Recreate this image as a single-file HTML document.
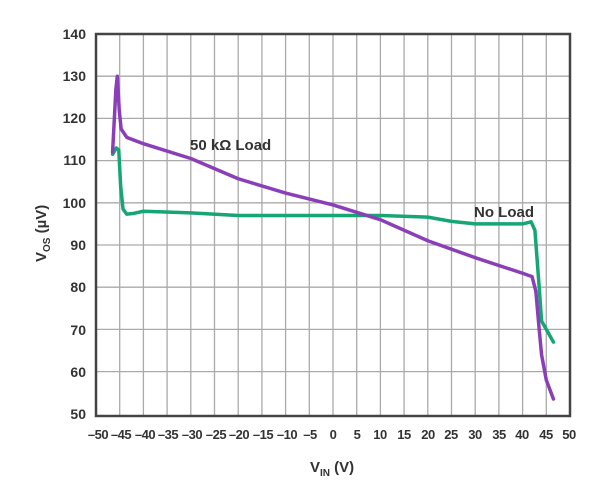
<!DOCTYPE html>
<html><head><style>
body{margin:0;background:#fff;}
text{font-family:"Liberation Sans",Arial,sans-serif;font-weight:bold;fill:#333;}
</style></head><body>
<svg width="615" height="493" xmlns="http://www.w3.org/2000/svg">
<rect width="615" height="493" fill="#fff"/>
<g stroke="#aaa" stroke-width="1.3">
<line x1="119.7" y1="34" x2="119.7" y2="416"/><line x1="143.4" y1="34" x2="143.4" y2="416"/><line x1="167.1" y1="34" x2="167.1" y2="416"/><line x1="190.8" y1="34" x2="190.8" y2="416"/><line x1="214.5" y1="34" x2="214.5" y2="416"/><line x1="238.2" y1="34" x2="238.2" y2="416"/><line x1="261.9" y1="34" x2="261.9" y2="416"/><line x1="285.6" y1="34" x2="285.6" y2="416"/><line x1="309.3" y1="34" x2="309.3" y2="416"/><line x1="333" y1="34" x2="333" y2="416"/><line x1="356.7" y1="34" x2="356.7" y2="416"/><line x1="380.4" y1="34" x2="380.4" y2="416"/><line x1="404.1" y1="34" x2="404.1" y2="416"/><line x1="427.8" y1="34" x2="427.8" y2="416"/><line x1="451.5" y1="34" x2="451.5" y2="416"/><line x1="475.2" y1="34" x2="475.2" y2="416"/><line x1="498.9" y1="34" x2="498.9" y2="416"/><line x1="522.6" y1="34" x2="522.6" y2="416"/><line x1="546.3" y1="34" x2="546.3" y2="416"/>
<line x1="96" y1="76.2" x2="570" y2="76.2"/><line x1="96" y1="118.4" x2="570" y2="118.4"/><line x1="96" y1="160.6" x2="570" y2="160.6"/><line x1="96" y1="202.8" x2="570" y2="202.8"/><line x1="96" y1="245" x2="570" y2="245"/><line x1="96" y1="287.2" x2="570" y2="287.2"/><line x1="96" y1="329.4" x2="570" y2="329.4"/><line x1="96" y1="371.6" x2="570" y2="371.6"/>
</g>
<rect x="96" y="34" width="474" height="382" fill="none" stroke="#444" stroke-width="2.5"/>
<g transform="translate(333,624.8) scale(4.74,-4.22)" fill="none" stroke-linejoin="round" stroke-linecap="round">
<path vector-effect="non-scaling-stroke" stroke="#16a673" stroke-width="3.5" d="M-46.5,111.5 L-45.7,113 L-45.2,112.5 L-44.8,104 L-44.3,98.5 L-43.5,97.3 L-42,97.5 L-40,98 L-30,97.6 L-20,97 L0,97 L10,97 L20,96.6 L25,95.6 L30,95 L40,95 L41.8,95.5 L42.6,93.5 L43.5,80 L44,72 L45,70 L46.5,67"/>
<path vector-effect="non-scaling-stroke" stroke="#8a3fb8" stroke-width="3.5" d="M-46.5,112 L-45.8,127 L-45.5,130 L-45.1,122 L-44.7,117.5 L-43.5,115.5 L-40,114 L-30,110.5 L-20,105.7 L-10,102.3 L0,99.5 L10,96 L20,91 L30,87 L40,83.3 L42,82.5 L42.8,79 L43.5,70 L44,64 L45,58 L46.5,53.5"/>
</g>
<g font-size="14" text-anchor="end">
<text x="86" y="39">140</text><text x="86" y="81">130</text><text x="86" y="123">120</text><text x="86" y="165">110</text><text x="86" y="208">100</text><text x="86" y="250">90</text><text x="86" y="292">80</text><text x="86" y="335">70</text><text x="86" y="377">60</text><text x="86" y="419">50</text>
</g>
<g font-size="13" text-anchor="middle" letter-spacing="-0.5">
<text x="98" y="439">–50</text><text x="121" y="439">–45</text><text x="145" y="439">–40</text><text x="168" y="439">–35</text><text x="192" y="439">–30</text><text x="216" y="439">–25</text><text x="239" y="439">–20</text><text x="263" y="439">–15</text><text x="287" y="439">–10</text><text x="310" y="439">–5</text><text x="333" y="439">0</text><text x="357" y="439">5</text><text x="380" y="439">10</text><text x="404" y="439">15</text><text x="428" y="439">20</text><text x="451" y="439">25</text><text x="475" y="439">30</text><text x="499" y="439">35</text><text x="522" y="439">40</text><text x="546" y="439">45</text><text x="569" y="439">50</text>
</g>
<text x="310" y="472" font-size="15">V<tspan font-size="10" dy="4">IN</tspan><tspan dy="-4"> (V)</tspan></text>
<text transform="translate(46,262) rotate(-90)" font-size="15">V<tspan font-size="10" dy="4">OS</tspan><tspan dy="-4"> (µV)</tspan></text>
<text x="190" y="150" font-size="15">50 kΩ Load</text>
<text x="474" y="217" font-size="15">No Load</text>
</svg>
</body></html>
